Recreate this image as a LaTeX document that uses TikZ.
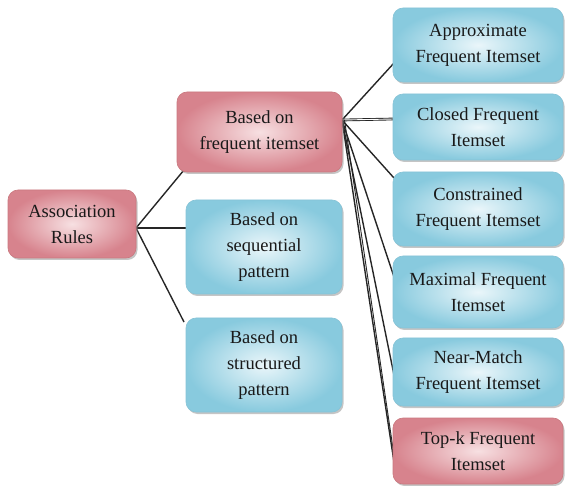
\documentclass[tikz,border=0pt]{standalone}
\usepackage{fontspec}
\setmainfont{Liberation Serif}
\usetikzlibrary{shadows}
\definecolor{pinkout}{HTML}{D7838D}
\definecolor{pinkin}{HTML}{F7E0E2}
\definecolor{pinkdraw}{HTML}{C9787F}
\definecolor{blueout}{HTML}{88CADE}
\definecolor{bluein}{HTML}{EAF6FA}
\definecolor{bluedraw}{HTML}{86C3D6}
\begin{document}
\begin{tikzpicture}[x=1pt,y=1pt,
  box/.style={rounded corners=10pt, align=center, inner sep=0pt,
    font=\fontsize{18.5}{26}\selectfont, text=black!90,
    drop shadow={shadow xshift=1.5pt, shadow yshift=-2pt, fill=black!45, opacity=0.5}},
  pinkbox/.style={box, draw=pinkdraw, line width=0.6pt, shading=radial, inner color=pinkin, outer color=pinkout},
  bluebox/.style={box, draw=bluedraw, line width=0.6pt, shading=radial, inner color=bluein, outer color=blueout},
  conn/.style={draw=black!85, line width=1.4pt}]
\useasboundingbox (0,0) rectangle (565,-486);

% origin points of connectors
\coordinate (arO) at (136,-228);
\coordinate (bfO) at (342,-120);
% end points
\coordinate (eBF) at (184,-170);
\coordinate (eBS) at (186,-228);
\coordinate (eBT) at (184,-322);
\coordinate (eA) at (394,-63);
\coordinate (eC) at (394,-119);
\coordinate (eCo) at (394,-178);
\coordinate (eM) at (394,-277);
\coordinate (eN) at (394,-375);
\coordinate (eT) at (394,-462);

\draw[conn] (arO) -- (eBF);
\draw[conn] (arO) -- (eBS);
\draw[conn] (arO) -- (eBT);
\draw[conn] (bfO) -- (eA);
\draw[conn, double=white, double distance=0.9pt, line width=0.9pt] (bfO) -- (eC);
\draw[conn] (bfO) -- (eCo);
\draw[conn] (bfO) -- (eM);
\draw[conn] (bfO) -- (eN);
\draw[conn] (bfO) -- (eT);
\draw[black!85, line width=0.9pt] ([xshift=2.5pt]bfO) -- ([xshift=1pt]eT);

\node[pinkbox, minimum width=128pt, minimum height=68pt] (AR) at (72,-224) {Association\\Rules};
\node[pinkbox, minimum width=165pt, minimum height=80pt] (BF) at (259.5,-132) {Based on\\frequent itemset};
\node[bluebox, minimum width=156pt, minimum height=94pt] (BS) at (264,-247) {Based on\\sequential\\pattern};
\node[bluebox, minimum width=156pt, minimum height=94pt] (BT) at (264,-365) {Based on\\structured\\pattern};

\node[bluebox, minimum width=170pt, minimum height=74pt] (A) at (478,-45) {Approximate\\Frequent Itemset};
\node[bluebox, minimum width=170pt, minimum height=66pt] (C) at (478,-127) {Closed Frequent\\Itemset};
\node[bluebox, minimum width=170pt, minimum height=74pt] (Co) at (478,-209) {Constrained\\Frequent Itemset};
\node[bluebox, minimum width=170pt, minimum height=72pt] (M) at (478,-292) {Maximal Frequent\\Itemset};
\node[bluebox, minimum width=170pt, minimum height=68pt] (N) at (478,-372) {Near-Match\\Frequent Itemset};
\node[pinkbox, minimum width=170pt, minimum height=66pt] (T) at (478,-451) {Top-k Frequent\\Itemset};
\end{tikzpicture}
\end{document}
